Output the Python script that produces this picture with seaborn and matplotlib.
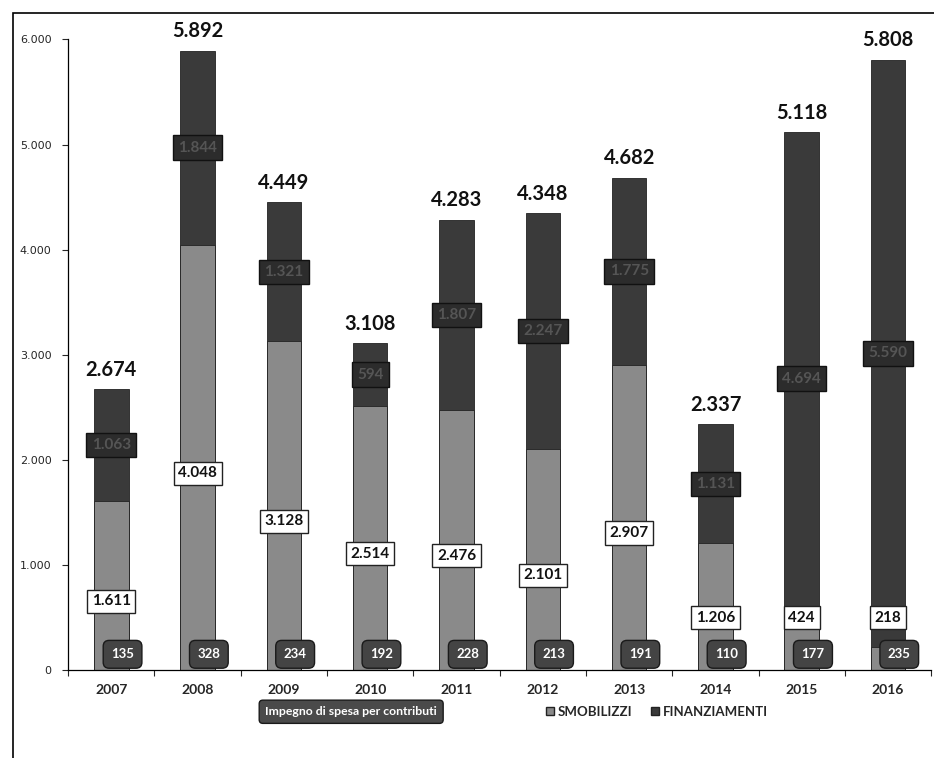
import matplotlib
matplotlib.use("Agg")
import matplotlib.pyplot as plt
from matplotlib.patches import Patch, Rectangle
from matplotlib.ticker import FuncFormatter, FixedLocator
import seaborn as sns
import pandas as pd

years = ["2007", "2008", "2009", "2010", "2011", "2012", "2013", "2014", "2015", "2016"]
totali = [2674, 5892, 4449, 3108, 4283, 4348, 4682, 2337, 5118, 5808]
smobilizzi = [1611, 4048, 3128, 2514, 2476, 2101, 2907, 1206, 424, 218]
finanziamenti = [1063, 1844, 1321, 594, 1807, 2247, 1775, 1131, 4694, 5590]
impegno = [135, 328, 234, 192, 228, 213, 191, 110, 177, 235]

df = pd.DataFrame({"anno": years, "totale": totali, "smob": smobilizzi,
                   "fin": finanziamenti, "imp": impegno})

sns.set_style("white")
plt.rcParams["font.family"] = ["Lato", "DejaVu Sans"]

c_smob = "#8a8a8a"
c_fin = "#3a3a3a"


def it_num(v):
    return f"{int(v):,}".replace(",", ".")


fig = plt.figure(figsize=(9.34, 7.58), dpi=100)
ax = fig.add_axes([0.073, 0.116, 0.924, 0.832])

# stacked: total (dark) behind, smobilizzi (gray) in front
sns.barplot(data=df, x="anno", y="totale", color=c_fin, width=0.4,
            saturation=1, edgecolor="#222222", linewidth=0.6, ax=ax)
sns.barplot(data=df, x="anno", y="smob", color=c_smob, width=0.4,
            saturation=1, edgecolor="#222222", linewidth=0.6, ax=ax)

ax.set_ylim(0, 6000)
ax.set_xlim(-0.5, 9.5)
ax.set_xlabel("")
ax.set_ylabel("")
ax.yaxis.set_major_locator(FixedLocator(range(0, 6001, 1000)))
ax.yaxis.set_major_formatter(FuncFormatter(lambda v, p: it_num(v)))
ax.tick_params(axis="y", direction="out", length=4, width=0.8, labelsize=8,
               left=True, pad=8)
for t in ax.get_yticklabels():
    t.set_family("DejaVu Sans")
ax.tick_params(axis="x", length=0, labelsize=10, pad=10)
for t in ax.get_xticklabels():
    t.set_fontweight("bold")
ax.set_xticks([i + 0.5 for i in range(-1, 10)], minor=True)
ax.tick_params(axis="x", which="minor", direction="out", length=4, width=0.8, bottom=True)
for s in ["top", "right"]:
    ax.spines[s].set_visible(False)
for s in ["left", "bottom"]:
    ax.spines[s].set_color("black")
    ax.spines[s].set_linewidth(0.9)

for i in range(len(years)):
    # totals on top
    ax.text(i, totali[i] + 90, it_num(totali[i]), ha="center",
            va="bottom", fontsize=14.5, fontweight="bold", color="#111111")
    # smobilizzi label
    y_s = max(smobilizzi[i] / 2 - 150, 500)
    ax.text(i, y_s, it_num(smobilizzi[i]), ha="center", va="center",
            fontsize=11, fontweight="bold", color="#111111",
            bbox=dict(boxstyle="square,pad=0.3", fc="white", ec="#222222", lw=1))
    # finanziamenti label
    y_f = smobilizzi[i] + finanziamenti[i] / 2
    ax.text(i, y_f, it_num(finanziamenti[i]), ha="center", va="center",
            fontsize=11, fontweight="bold", color="#555555",
            bbox=dict(boxstyle="square,pad=0.35", fc="#2c2c2c", ec="#111111", lw=1))
    # impegno label at the base
    ax.text(i + 0.13, 150, f"{impegno[i]}", ha="center", va="center",
            fontsize=9.5, fontweight="bold", color="white",
            bbox=dict(boxstyle="round,pad=0.6,rounding_size=0.45", fc="#444444",
                      ec="#1a1a1a", lw=1))

# legend row
fig.text(0.376, 0.061, "Impegno di spesa per contributi", ha="center", va="center",
         fontsize=8.8, fontweight="bold", color="white",
         bbox=dict(boxstyle="round,pad=0.5,rounding_size=0.3", fc="#4a4a4a",
                   ec="#1a1a1a", lw=1))
handles = [Patch(facecolor=c_smob, edgecolor="#222222", label="SMOBILIZZI"),
           Patch(facecolor=c_fin, edgecolor="#222222", label="FINANZIAMENTI")]
leg = fig.legend(handles=handles, loc="center", bbox_to_anchor=(0.703, 0.061), ncol=2,
                 frameon=False, handlelength=0.6, handleheight=0.6, handletextpad=0.3,
                 columnspacing=1.4, prop=dict(weight="bold", size=9.5))

# outer frame
fig.patches.append(Rectangle((0.014, -0.01), 1.0, 0.993, transform=fig.transFigure,
                             fill=False, ec="black", lw=1.2))

fig.savefig("out.png", dpi=100)
